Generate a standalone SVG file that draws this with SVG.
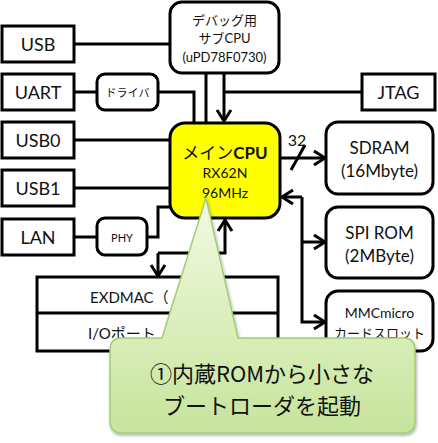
<svg xmlns="http://www.w3.org/2000/svg" width="438" height="443" viewBox="0 0 438 443">
<style>
.box{fill:#fff;stroke:#000;stroke-width:3}
.cpu{fill:#ffff00;stroke:#000;stroke-width:3}
.ln{fill:none;stroke:#000;stroke-width:3}
text{font-family:Lato,"Noto Sans","Noto Sans CJK JP",sans-serif;fill:#111;text-anchor:middle;dominant-baseline:central}
.l{font-size:18px}
.m{font-size:17px}
.s{font-size:13px}
.xs{font-size:11px}
.c{font-size:14px}
.big{font-size:22px;font-family:"Noto Sans CJK JP",sans-serif}
</style>
<defs>
<marker id="ar" markerUnits="userSpaceOnUse" markerWidth="16" markerHeight="18" refX="11" refY="7" orient="auto" overflow="visible">
<path d="M0,0 L11,7 L0,14" fill="none" stroke="#000" stroke-width="3"/>
</marker>
<linearGradient id="g" gradientUnits="userSpaceOnUse" x1="0" y1="198" x2="0" y2="433">
<stop offset="0" stop-color="#F2FAE3"/>
<stop offset="1" stop-color="#C6E49B"/>
</linearGradient>
<filter id="sh" x="-10%" y="-10%" width="120%" height="130%">
<feDropShadow dx="1" dy="2" stdDeviation="1.5" flood-color="#000" flood-opacity="0.3"/>
</filter>
</defs>

<g id="connectors">
<path class="ln" d="M74,44 H170"/>
<path class="ln" d="M74,92 H97"/>
<path class="ln" d="M158,92 H194 V123"/>
<path class="ln" d="M206,73 V123"/>
<path class="ln" d="M224,73 V121" marker-end="url(#ar)"/>
<path class="ln" d="M362,92 H224"/>
<path class="ln" d="M74,140 H170"/>
<path class="ln" d="M74,188 H170"/>
<path class="ln" d="M74,237 H97"/>
<path class="ln" d="M147,237 H158 V207 H170"/>
<path class="ln" d="M280,158 H325" marker-end="url(#ar)"/>
<path class="ln" d="M291,170 L305,145"/>
<path class="ln" d="M158,253 V276" marker-end="url(#ar)"/>
<path class="ln" d="M158,253 H225 V220" marker-end="url(#ar)"/>
<path class="ln" d="M302,197 H282" marker-end="url(#ar)"/>
<path class="ln" d="M302,197 V322 H325" marker-end="url(#ar)"/>
<path class="ln" d="M302,242 H325" marker-end="url(#ar)"/>
<text x="297" y="139" style="font-size:16px">32</text>
</g>

<g id="usb"><rect class="box" x="2" y="26" width="72" height="36"/><text class="l" x="38" y="44">USB</text></g>
<g id="uart"><rect class="box" x="2" y="74" width="72" height="36"/><text class="l" x="38" y="92">UART</text></g>
<g id="usb0"><rect class="box" x="2" y="122" width="72" height="36"/><text class="l" x="38" y="140">USB0</text></g>
<g id="usb1"><rect class="box" x="2" y="170" width="72" height="36"/><text class="l" x="38" y="188">USB1</text></g>
<g id="lan"><rect class="box" x="2" y="219" width="72" height="36"/><text class="l" x="38" y="237">LAN</text></g>
<g id="driver"><rect class="box" x="97" y="74" width="61" height="36" rx="8"/><text class="xs" x="127.5" y="92">ドライバ</text></g>
<g id="phy"><rect class="box" x="97" y="218" width="50" height="37" rx="8"/><text class="xs" x="122" y="237">PHY</text></g>
<g id="debug"><rect class="box" x="170" y="2" width="109" height="71" rx="12"/>
<text class="s" x="224.5" y="20">デバッグ用</text>
<text class="s" x="224.5" y="38">サブCPU</text>
<text class="s" x="224.5" y="57">(uPD78F0730)</text></g>
<g id="jtag"><rect class="box" x="362" y="74" width="73" height="36"/><text class="l" x="398.5" y="92">JTAG</text></g>
<g id="cpu"><rect class="cpu" x="170" y="123" width="110" height="95" rx="15"/>
<text x="225" y="152" style="font-size:17px">メイン<tspan font-weight="bold">CPU</tspan></text>
<text class="c" x="225" y="172">RX62N</text>
<text class="c" x="225" y="192">96MHz</text></g>
<g id="sdram"><rect class="box" x="326" y="122" width="107" height="72" rx="12"/>
<text class="m" x="379.5" y="147">SDRAM</text><text class="m" x="379.5" y="170">(16Mbyte)</text></g>
<g id="spirom"><rect class="box" x="326" y="207" width="107" height="71" rx="12"/>
<text class="m" x="379.5" y="232">SPI ROM</text><text class="m" x="379.5" y="255">(2MByte)</text></g>
<g id="mmc"><rect class="box" x="326" y="291" width="107" height="60" rx="12"/>
<text class="c" x="379.5" y="312">MMCmicro</text><text class="s" x="379.5" y="333">カードスロット</text></g>
<g id="exdmac"><rect class="box" x="37" y="277" width="241" height="74"/>
<path class="ln" d="M37,313 H278"/>
<text x="90" y="297" style="font-size:15px;text-anchor:start">EXDMAC（</text>
<text x="88" y="333" style="font-size:15px;text-anchor:start">I/Oポート</text></g>
<g id="callout">
<path d="M122,338 L162,338 L206,198 L238,338 L403,338 Q415,338 415,350 L415,421 Q415,433 403,433 L122,433 Q110,433 110,421 L110,350 Q110,338 122,338 Z" fill="url(#g)" stroke="#A3CC73" stroke-width="1.5" filter="url(#sh)"/>
<text class="big" x="262" y="372">①内蔵ROMから小さな</text>
<text class="big" x="262" y="404">ブートローダを起動</text>
</g>
</svg>
